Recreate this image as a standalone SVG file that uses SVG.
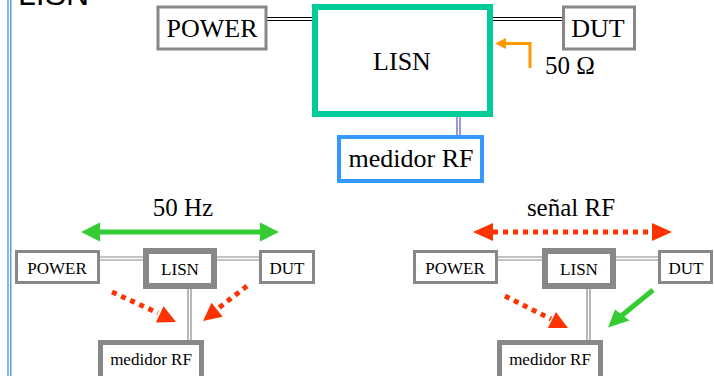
<svg xmlns="http://www.w3.org/2000/svg" width="714" height="376" viewBox="0 0 714 376">
<style>
.t{font-family:"Liberation Serif","Times New Roman",serif;fill:#000;text-anchor:middle}
.big{font-size:26px}
.lbl{font-size:25px}
.sm{font-size:17px}
.gb{fill:#fff;stroke:#888}
.dl{stroke:#000;stroke-width:1.2;fill:none}
.gl{stroke:#888;stroke-width:1.2;fill:none}
.red{stroke:#ff3300;stroke-width:5;stroke-dasharray:5 5;fill:none}
</style>
<rect width="714" height="376" fill="#fff"/>
<g id="border">
<line x1="8" y1="0" x2="8" y2="376" stroke="#3388dd" stroke-width="1.2"/>
<line x1="10.8" y1="0" x2="10.8" y2="376" stroke="#3388dd" stroke-width="1.2"/>
</g>
<text id="title" x="18" y="5" style="font-family:'Liberation Sans',Arial,sans-serif;font-size:32px">LISN</text>
<g id="connectors">
<line class="dl" x1="267" y1="17.5" x2="313" y2="17.5"/>
<line class="dl" x1="267" y1="20.5" x2="313" y2="20.5"/>
<line class="dl" x1="492" y1="17.5" x2="562" y2="17.5"/>
<line class="dl" x1="492" y1="20.5" x2="562" y2="20.5"/>
<line x1="457" y1="117" x2="457" y2="136" stroke="#3333aa" stroke-width="1"/>
<line x1="460" y1="117" x2="460" y2="136" stroke="#3333aa" stroke-width="1"/>
<polyline points="530,68 530,43.5 505,43.5" fill="none" stroke="#ff9900" stroke-width="3"/>
<polygon points="495,43.5 506,38 506,49" fill="#ff9900"/>
<line class="gl" x1="100" y1="257" x2="143" y2="257"/>
<line class="gl" x1="100" y1="260" x2="143" y2="260"/>
<line class="gl" x1="217" y1="257" x2="259" y2="257"/>
<line class="gl" x1="217" y1="260" x2="259" y2="260"/>
<line class="gl" x1="188" y1="289" x2="188" y2="340"/>
<line class="gl" x1="191" y1="289" x2="191" y2="340"/>
<line class="gl" x1="498" y1="257" x2="542" y2="257"/>
<line class="gl" x1="498" y1="260" x2="542" y2="260"/>
<line class="gl" x1="616" y1="257" x2="658" y2="257"/>
<line class="gl" x1="616" y1="260" x2="658" y2="260"/>
<line class="gl" x1="587" y1="289" x2="587" y2="340"/>
<line class="gl" x1="590" y1="289" x2="590" y2="340"/>
<line x1="98" y1="232" x2="262" y2="232" stroke="#33cc33" stroke-width="5"/>
<polygon points="81,232 100,222.5 100,241.5" fill="#33cc33"/>
<polygon points="279,232 260,222.5 260,241.5" fill="#33cc33"/>
<line class="red" x1="493" y1="232" x2="652" y2="232"/>
<polygon points="473,232 493,223 493,241" fill="#ff3300"/>
<polygon points="672,232 652,223 652,241" fill="#ff3300"/>
<line class="red" x1="112" y1="292" x2="158" y2="313"/>
<polygon points="176,322 155.9,322.5 163.5,306.3" fill="#ff3300"/>
<line class="red" x1="247" y1="286" x2="216" y2="310"/>
<polygon points="203,321 222.7,316.8 211.5,302.7" fill="#ff3300"/>
<line class="red" x1="505" y1="296" x2="551" y2="319"/>
<polygon points="568,328 547.9,328 555.9,311.9" fill="#ff3300"/>
<line x1="653" y1="290" x2="620" y2="317" stroke="#33cc33" stroke-width="5"/>
<polygon points="608,327.5 615,309.5 629.5,320.5" fill="#33cc33"/>
</g>
<g id="power-top"><rect class="gb" x="158" y="7" width="108" height="42" stroke-width="3"/><text class="t big" x="212" y="37">POWER</text></g>
<g id="lisn-top"><rect x="315" y="7" width="175" height="107" fill="#fff" stroke="#00cc99" stroke-width="6"/><text class="t big" x="402" y="70">LISN</text></g>
<g id="dut-top"><rect class="gb" x="563.5" y="7" width="71" height="42" stroke-width="3"/><text class="t big" x="598" y="37">DUT</text></g>
<text id="ohm" class="t lbl" x="570" y="74">50 Ω</text>
<g id="medidor-top"><rect x="339" y="137" width="143" height="44" fill="#fff" stroke="#3399ff" stroke-width="4"/><text class="t big" x="411" y="167">medidor RF</text></g>
<text id="hz" class="t lbl" x="183" y="216">50 Hz</text>
<g id="power-l"><rect class="gb" x="16.5" y="251.5" width="82" height="31" stroke-width="3"/><text class="t sm" x="57" y="274">POWER</text></g>
<g id="lisn-l"><rect class="gb" x="146" y="251" width="68" height="35" stroke-width="6"/><text class="t sm" x="180" y="275">LISN</text></g>
<g id="dut-l"><rect class="gb" x="260.5" y="251.5" width="53" height="31" stroke-width="3"/><text class="t sm" x="287" y="274">DUT</text></g>
<g id="medidor-l"><rect class="gb" x="100.5" y="342.5" width="101" height="40" stroke-width="5"/><text class="t sm" x="151" y="365">medidor RF</text></g>
<text id="rf" class="t lbl" x="571" y="216">señal RF</text>
<g id="power-r"><rect class="gb" x="414.5" y="251.5" width="82" height="31" stroke-width="3"/><text class="t sm" x="455" y="274">POWER</text></g>
<g id="lisn-r"><rect class="gb" x="545" y="251" width="68" height="35" stroke-width="6"/><text class="t sm" x="579" y="275">LISN</text></g>
<g id="dut-r"><rect class="gb" x="659.5" y="251.5" width="52" height="31" stroke-width="3"/><text class="t sm" x="686" y="274">DUT</text></g>
<g id="medidor-r"><rect class="gb" x="499.5" y="342.5" width="101" height="40" stroke-width="5"/><text class="t sm" x="550" y="365">medidor RF</text></g>
</svg>
